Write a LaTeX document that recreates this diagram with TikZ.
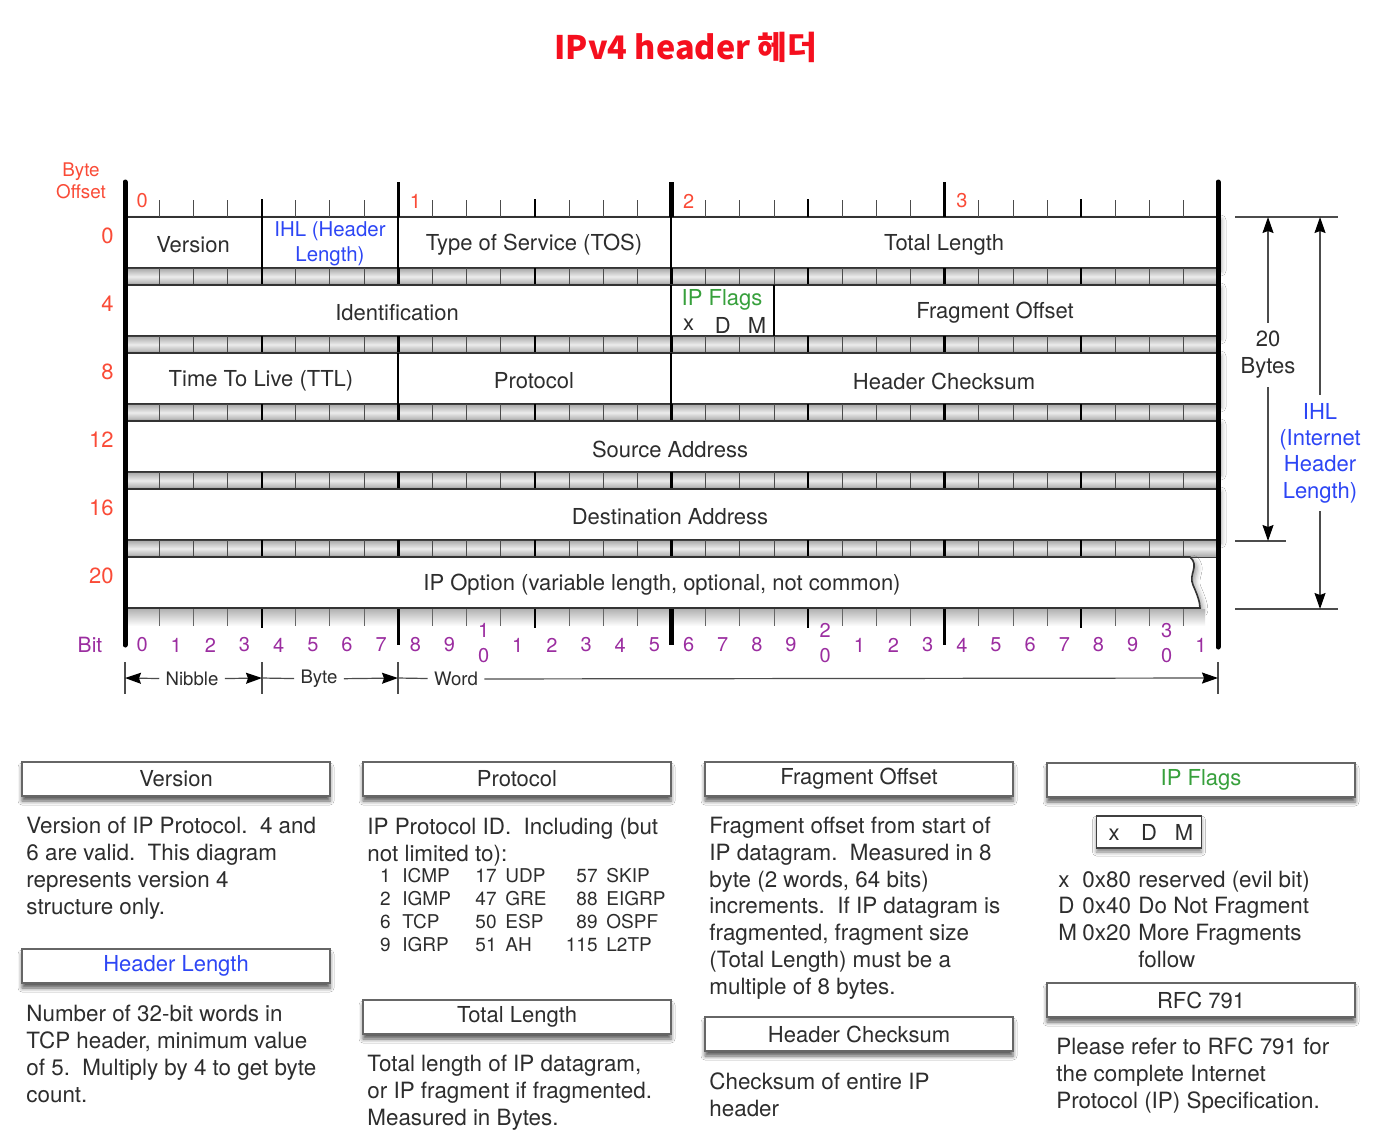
\documentclass[tikz,border=0pt]{standalone}
\usepackage{fontspec}
\setmainfont{TeX Gyre Heros}
\newfontfamily\krfont{Noto Sans CJK KR}
\usepackage{tikz}
\usetikzlibrary{calc,arrows.meta,positioning,shadows.blur}

\begin{document}
\begin{tikzpicture}[x=0.5pt,y=-0.5pt,>={Stealth[length=8pt,width=5.5pt,inset=1pt,color=black]},
    font=\fontsize{11}{13.3}\selectfont,
    txt/.style={text=cText,inner sep=0pt},
    row/.style={draw=black!80,line width=0.8pt,fill=white,
      blur shadow={shadow xshift=1.5pt,shadow yshift=-1.5pt,shadow blur radius=2.5pt,shadow opacity=40}},
    band/.style={top color=gray!70,bottom color=gray!70,middle color=gray!15,draw=black!75,line width=0.5pt},
    head/.style={draw=black!60,line width=0.7pt,fill=white,minimum width=154pt,minimum height=17pt,inner sep=0pt,
      text=cText,blur shadow={shadow xshift=0pt,shadow yshift=-2.5pt,shadow blur radius=2pt,shadow opacity=65}},
    body/.style={txt,anchor=base west,align=left,font=\fontsize{11.2}{13.35}\selectfont},
    tab/.style={txt,font=\fontsize{9.5}{11.35}\selectfont},
    bitlbl/.style={text=cBit,inner sep=0pt,font=\fontsize{10}{12.5}\selectfont},
    offlbl/.style={text=cOff,inner sep=0pt,anchor=east,font=\fontsize{11}{13}\selectfont},
    dim/.style={black!70,line width=0.6pt}]
    \definecolor{cText}{RGB}{45,45,45}\definecolor{cOff}{RGB}{250,75,55}
    \definecolor{cBit}{RGB}{155,45,160}\definecolor{cIHL}{RGB}{45,70,245}
    \definecolor{cFlag}{RGB}{55,160,60}\definecolor{cTitle}{RGB}{245,15,30}
    \path[use as bounding box,fill=white] (0,0) rectangle (1384,1130);
    \node[font=\krfont\bfseries\fontsize{16.2}{19}\selectfont,text=cTitle] (title) at (686,47) {IPv4 header 헤더};
    % ---------- header grid ----------
    \foreach \r in {0,...,4}{
      \draw[row] (125,{217+68*\r}) rectangle (1218,{268+68*\r});
      \draw[band] (125,{268+68*\r}) rectangle (1218,{285+68*\r});
      \foreach \i in {1,2,3,5,6,7,9,10,11,13,14,15,17,18,19,21,22,23,25,26,27,29,30,31}
        \draw[black!70,line width=0.45pt] ({125+\i*34.156},{268+68*\r}) -- ({125+\i*34.156},{285+68*\r});
      \foreach \i in {4,12,20,28}
        \draw[line width=1pt] ({125+\i*34.156},{268+68*\r}) -- ({125+\i*34.156},{285+68*\r});
      \foreach \i in {8,16,24}
        \draw[line width=1.6pt] ({125+\i*34.156},{268+68*\r}) -- ({125+\i*34.156},{285+68*\r});
    }
    \draw[row] (125,557) -- (1190,557) .. controls (1200,566) and (1188,574) .. (1193,585)
      .. controls (1197,594) and (1200,602) .. (1200,608) -- (125,608) -- cycle;
    \fill[top color=gray!60,bottom color=white] (125,609) rectangle (1205,626);
    % top and bottom rulers
    \foreach \i in {1,2,3,5,6,7,9,10,11,13,14,15,17,18,19,21,22,23,25,26,27,29,30,31}{
      \draw[black!70,line width=0.45pt] ({125+\i*34.156},200) -- ({125+\i*34.156},217);
      \draw[black!60,line width=0.45pt] ({125+\i*34.156},609) -- ({125+\i*34.156},626);
    }
    \foreach \i in {4,12,20,28}{
      \draw[line width=0.9pt] ({125+\i*34.156},199) -- ({125+\i*34.156},217);
      \draw[line width=1pt] ({125+\i*34.156},609) -- ({125+\i*34.156},628);
    }
    \foreach \i/\w in {8/1.5,16/2.2,24/1.5}{
      \draw[line width=\w pt] ({125+\i*34.156},182) -- ({125+\i*34.156},217);
      \draw[line width=\w pt] ({125+\i*34.156},609) -- ({125+\i*34.156},645);
    }
    % field dividers
    \foreach \x in {262,398,671} \draw[line width=0.9pt] (\x,217) -- (\x,268);
    \foreach \x in {671,774} \draw[line width=0.9pt] (\x,285) -- (\x,336);
    \foreach \x in {398,671} \draw[line width=0.9pt] (\x,353) -- (\x,404);
    \draw[line width=2.5pt,line cap=round] (125,182) -- (125,645);
    \draw[line width=2.5pt,line cap=round] (1218,182) -- (1218,647);
    % field names
    \node[txt] (fVer) at (193,245) {Version};
    \node[txt,text=cIHL,align=center,font=\fontsize{10.2}{12.5}\selectfont] (fIHL) at (330,244) {IHL (Header\\Length)};
    \node[txt] (fTos) at (534,245) {Type of Service (TOS)};
    \node[txt] (fTot) at (944,245) {Total Length};
    \node[txt] (fId) at (397,313) {Identification};
    \node[txt,text=cFlag] (fFlags) at (722,300) {IP Flags};
    \node[txt] (fX) at (688.6,325) {x};
    \node[txt] (fD) at (722.7,325) {D};
    \node[txt] (fM) at (756.9,325) {M};
    \node[txt] (fFrag) at (995,313) {Fragment Offset};
    \node[txt] (fTtl) at (261,381) {Time To Live (TTL)};
    \node[txt] (fProt) at (534,381) {Protocol};
    \node[txt] (fChk) at (944,381) {Header Checksum};
    \node[txt] (fSrc) at (670,449) {Source Address};
    \node[txt] (fDst) at (670,517) {Destination Address};
    \node[txt] (fOpt) at (662,585) {IP Option (variable length, optional, not common)};
    % offsets and bit numbers
    \node[txt,text=cOff,align=center,font=\fontsize{9.4}{11}\selectfont] (offhead) at (81,181) {Byte\\Offset};
    \foreach \r/\o in {0/0,1/4,2/8,3/12,4/16,5/20}
      \node[offlbl] (off\o) at (114,{236+68*\r}) {\o};
    \foreach \b in {0,...,3}
      \node[txt,text=cOff,font=\fontsize{10}{12}\selectfont] (byte\b) at ({125+(8*\b+0.5)*34.156},201) {\b};
    \node[bitlbl,font=\fontsize{10.5}{12.5}\selectfont] (bitword) at (90,645) {Bit};
    \foreach \i in {0,...,31}{
      \pgfmathtruncatemacro{\u}{mod(\i,10)}
      \pgfmathtruncatemacro{\t}{\i/10}
      \ifnum\u=0 \ifnum\t>0
        \node[bitlbl,align=center] (bit\i) at ({125+(\i+0.5)*34.156},643) {\t\\0};
      \else
        \node[bitlbl] (bit\i) at ({125+(\i+0.5)*34.156},645) {\u};
      \fi\else
        \node[bitlbl] (bit\i) at ({125+(\i+0.5)*34.156},645) {\u};
      \fi
    }
    % ---------- nibble / byte / word ----------
    \foreach \x in {125,262,398,1218} \draw[dim] (\x,662) -- (\x,694);
    \coordinate (d0) at (125,678);\coordinate (d1) at (262,678);
    \coordinate (d2) at (398,678);\coordinate (d3) at (1218,678);
    \node[txt,inner sep=3pt,font=\fontsize{9.3}{11}\selectfont] (nib) at (192,679) {Nibble};
    \node[txt,inner sep=3pt,font=\fontsize{9.3}{11}\selectfont] (byt) at (319,679) {Byte};
    \node[txt,inner sep=3pt,font=\fontsize{9.3}{11}\selectfont] (wrd) at (456,679) {Word};
    \draw[dim,->] (nib) -- (d0); \draw[dim,->] (nib) -- (d1);
    \draw[dim] (d1) -- (byt); \draw[dim,->] (byt) -- (d2);
    \draw[dim] (d2) -- (wrd); \draw[dim,->] (wrd) -- (d3);
    % ---------- 20 bytes / IHL ----------
    \draw[dim] (1235,217) -- (1338,217);
    \draw[dim] (1235,541) -- (1286,541);
    \draw[dim] (1235,609) -- (1338,609);
    \coordinate (b20t) at (1268,217);\coordinate (b20b) at (1268,541);
    \coordinate (ihlt) at (1320,217);\coordinate (ihlb) at (1320,609);
    \node[txt,inner sep=4pt,align=center,font=\fontsize{11}{13.5}\selectfont] (b20) at (1268,355) {20\\Bytes};
    \node[txt,inner sep=4pt,text=cIHL,align=center,font=\fontsize{11}{13.2}\selectfont] (ihl) at (1320,453) {IHL\\(Internet\\Header\\Length)};
    \draw[dim,->] (b20) -- (b20t); \draw[dim,->] (b20) -- (b20b);
    \draw[dim,->] (ihl) -- (ihlt); \draw[dim,->] (ihl) -- (ihlb);
    % ---------- legend (base anchor = last line) ----------
    \node[head] (hVer) at (176,779) {Version};
    \node[body] (tVer) at (26,914) {Version of IP Protocol.\ \ 4 and\\6 are valid.\ \ This diagram\\represents version 4\\structure only.};
    \node[head,text=cIHL] (hHL) at (176,966) {Header Length};
    \node[body] (tHL) at (26,1102) {Number of 32-bit words in\\TCP header, minimum value\\of 5.\ \ Multiply by 4 to get byte\\count.};
    \node[head] (hProt) at (517,779) {Protocol};
    \node[body] (tProt) at (367,861) {IP Protocol ID.\ \ Including (but\\not limited to):};
    \node[tab,anchor=base east,align=right] (pn1) at (391,951) {1\\2\\6\\9};
    \node[tab,anchor=base west,align=left] (pp1) at (402,951) {ICMP\\IGMP\\TCP\\IGRP};
    \node[tab,anchor=base east,align=right] (pn2) at (497,951) {17\\47\\50\\51};
    \node[tab,anchor=base west,align=left] (pp2) at (505,951) {UDP\\GRE\\ESP\\AH};
    \node[tab,anchor=base east,align=right] (pn3) at (598,951) {57\\88\\89\\115};
    \node[tab,anchor=base west,align=left] (pp3) at (606,951) {SKIP\\EIGRP\\OSPF\\L2TP};
    \node[head] (hTot) at (517,1017) {Total Length};
    \node[body] (tTot) at (367,1125) {Total length of IP datagram,\\or IP fragment if fragmented.\\Measured in Bytes.};
    \node[head] (hFrag) at (859,779) {Fragment Offset};
    \node[body] (tFrag) at (709,994) {Fragment offset from start of\\IP datagram.\ \ Measured in 8\\byte (2 words, 64 bits)\\increments.\ \ If IP datagram is\\fragmented, fragment size\\(Total Length) must be a\\multiple of 8 bytes.};
    \node[head] (hChk) at (859,1034) {Header Checksum};
    \node[body] (tChk) at (709,1116) {Checksum of entire IP\\header};
    \node[head,text=cFlag] (hFlags) at (1201,780) {IP Flags};
    \node[draw=black!75,line width=0.9pt,fill=white,minimum width=51pt,minimum height=16pt,inner sep=0pt,text=cText,
      blur shadow={shadow xshift=0pt,shadow yshift=-2pt,shadow blur radius=2pt,shadow opacity=50}] (xdm) at (1149,832)
      {\makebox[17.5pt]{x}\makebox[17.5pt]{D}\makebox[17.5pt]{M}};
    \node[body] (tFlags) at (1058,887) {\begin{tabular}[t]{@{}p{12pt}@{}p{28pt}@{}l@{}}
      x & 0x80 & reserved (evil bit)\\ D & 0x40 & Do Not Fragment\\ M & 0x20 & More Fragments\\ & & follow\end{tabular}};
    \node[head] (hRfc) at (1201,1000) {RFC 791};
    \node[body] (tRfc) at (1056,1108) {Please refer to RFC 791 for\\the complete Internet\\Protocol (IP) Specification.};
  \end{tikzpicture}
\end{document}
